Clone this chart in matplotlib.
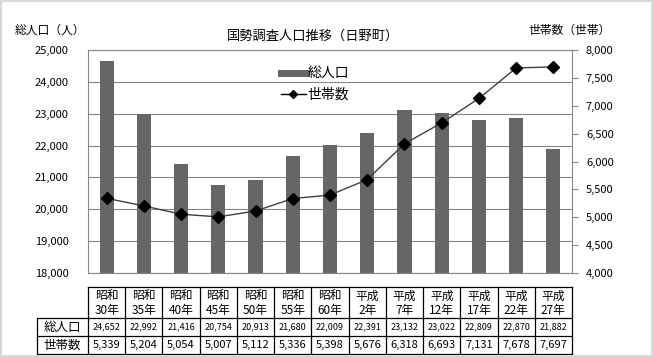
import matplotlib
matplotlib.use("Agg")
import matplotlib.pyplot as plt
from matplotlib.lines import Line2D
from matplotlib.patches import Rectangle

plt.rcParams['font.family'] = ['Noto Sans CJK JP', 'DejaVu Sans']

# data
years = ['昭和\n30年', '昭和\n35年', '昭和\n40年', '昭和\n45年', '昭和\n50年', '昭和\n55年', '昭和\n60年',
         '平成\n2年', '平成\n7年', '平成\n12年', '平成\n17年', '平成\n22年', '平成\n27年']
population = [24652, 22992, 21416, 20754, 20913, 21680, 22009, 22391, 23132, 23022, 22809, 22870, 21882]
households = [5339, 5204, 5054, 5007, 5112, 5336, 5398, 5676, 6318, 6693, 7131, 7678, 7697]

W, H = 653, 357
fig = plt.figure(figsize=(W / 100, H / 100), dpi=100)

def box(x0, y0, x1, y1):
    # pixel coords (top-left origin) -> figure fraction
    return [x0 / W, 1 - y1 / H, (x1 - x0) / W, (y1 - y0) / H]

# light frame around the whole picture
fig.patches.append(Rectangle((0.002, 0.002), 0.996, 0.994, transform=fig.transFigure,
                             fill=False, edgecolor='#d9d9d9', lw=1.5))

x = list(range(len(years)))
ax = fig.add_axes(box(88, 50, 572, 273))
ax.bar(x, population, width=0.38, color='#666666', zorder=2, label='総人口')
ax.set_xlim(-0.5, len(years) - 0.5)
ax.set_ylim(18000, 25000)
ax.set_yticks(range(18000, 25001, 1000))
ax.set_yticklabels([f'{v:,}' for v in range(18000, 25001, 1000)], fontsize=8)
ax.set_xticks([])
ax.grid(axis='y', color='#868686', lw=0.8, zorder=0)
ax.tick_params(axis='y', length=0, pad=14)
for s in ax.spines.values():
    s.set_color('#868686')
    s.set_linewidth(0.8)

ax2 = ax.twinx()
ax2.plot(x, households, color='#404040', lw=1, marker='D', markersize=6.5,
         markerfacecolor='black', markeredgecolor='black', zorder=3, label='世帯数')
ax2.set_ylim(4000, 8000)
ax2.set_yticks(range(4000, 8001, 500))
ax2.set_yticklabels([f'{v:,}' for v in range(4000, 8001, 500)], fontsize=8)
ax2.tick_params(axis='y', length=4, color='#868686', pad=6)
for s in ax2.spines.values():
    s.set_visible(False)

fig.text(313 / W, 1 - 36 / H, '国勢調査人口推移（日野町）', ha='center', va='center', fontsize=9.5)
fig.text(15 / W, 1 - 30 / H, '総人口（人）', ha='left', va='center', fontsize=8.5)
fig.text(528 / W, 1 - 30 / H, '世帯数（世帯）', ha='left', va='center', fontsize=8.5)

handles = [Line2D([], [], color='#666666', lw=5),
           Line2D([], [], color='black', lw=1, marker='D', markersize=4)]
fig.legend(handles, ['総人口', '世帯数'], loc='upper left', bbox_to_anchor=(268 / W, 1 - 54 / H),
           frameon=False, fontsize=10, handlelength=1.8, handletextpad=0.15, labelspacing=0.5)

# data table under the chart
tx0, tx1 = 37, 572
colw = (572 - 88) / len(years)
rows_y = [287, 318, 336, 354]
tab = fig.add_axes(box(tx0, rows_y[0], tx1, rows_y[-1]))
left = -0.5 - (88 - tx0) / colw
tab.set_xlim(left, len(years) - 0.5)
tab.set_ylim(rows_y[-1], rows_y[0])
tab.axis('off')
lw = 0.9
tab.plot([-0.5, len(years) - 0.5], [rows_y[0]] * 2, color='black', lw=lw, clip_on=False)
for yy in rows_y[1:]:
    tab.plot([left, len(years) - 0.5], [yy, yy], color='black', lw=lw, clip_on=False)
tab.plot([left, left], [rows_y[1], rows_y[-1]], color='black', lw=lw, clip_on=False)
for i in range(len(years) + 1):
    tab.plot([i - 0.5, i - 0.5], [rows_y[0], rows_y[-1]], color='black', lw=lw, clip_on=False)
for i, lab in enumerate(years):
    tab.text(i, (rows_y[0] + rows_y[1]) / 2 + 0.5, lab, ha='center', va='center', fontsize=8.5, linespacing=1.12)
    tab.text(i, (rows_y[1] + rows_y[2]) / 2, f'{population[i]:,}', ha='center', va='center', fontsize=6.5)
    tab.text(i, (rows_y[2] + rows_y[3]) / 2, f'{households[i]:,}', ha='center', va='center', fontsize=8)
tab.text((left - 0.5) / 2, (rows_y[1] + rows_y[2]) / 2, '総人口', ha='center', va='center', fontsize=9)
tab.text((left - 0.5) / 2, (rows_y[2] + rows_y[3]) / 2, '世帯数', ha='center', va='center', fontsize=9)

fig.savefig('out.png', dpi=100)
